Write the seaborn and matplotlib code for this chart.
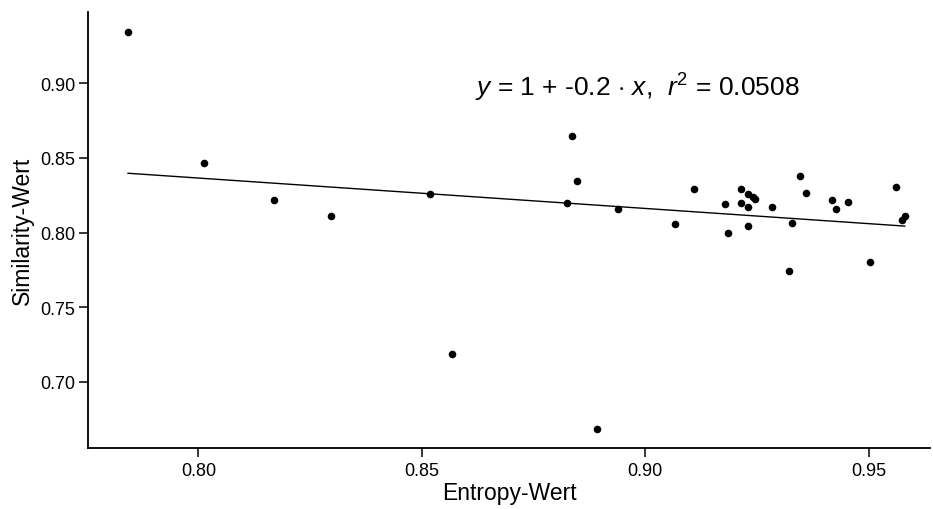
import matplotlib
matplotlib.use("Agg")
import matplotlib.pyplot as plt
import seaborn as sns
import pandas as pd

# values
entropy = [0.7842, 0.8013, 0.8169, 0.8296, 0.8519, 0.8567, 0.8893,
           0.8825, 0.8837, 0.8848, 0.8938, 0.9066, 0.9110, 0.9178,
           0.9185, 0.9213, 0.9215, 0.9230, 0.9230, 0.9230, 0.9240,
           0.9245, 0.9284, 0.9321, 0.9329, 0.9345, 0.9360, 0.9417,
           0.9427, 0.9454, 0.9502, 0.9560, 0.9575, 0.9581]
similarity = [0.9342, 0.8468, 0.8215, 0.8111, 0.8255, 0.7183, 0.6680,
              0.8198, 0.8645, 0.8348, 0.8160, 0.8054, 0.8291, 0.8188,
              0.7995, 0.8291, 0.8199, 0.8172, 0.8045, 0.8255, 0.8240,
              0.8226, 0.8174, 0.7740, 0.8064, 0.8379, 0.8267, 0.8219,
              0.8156, 0.8204, 0.7805, 0.8305, 0.8085, 0.8112]
x_ticks = [0.80, 0.85, 0.90, 0.95]
y_ticks = [0.70, 0.75, 0.80, 0.85, 0.90]
eq_label = r"$y$ = 1 + -0.2 $\cdot$ $x$,  $r^2$ = 0.0508"

df = pd.DataFrame({"Entropy-Wert": entropy, "Similarity-Wert": similarity})

sns.set_style("ticks")
plt.rcParams["font.family"] = ["Liberation Sans", "DejaVu Sans"]
plt.rcParams["text.color"] = "black"
plt.rcParams["axes.labelcolor"] = "black"
plt.rcParams["xtick.color"] = "black"
plt.rcParams["ytick.color"] = "black"
plt.rcParams["mathtext.fontset"] = "custom"
plt.rcParams["mathtext.rm"] = "Liberation Sans"
plt.rcParams["mathtext.it"] = "Liberation Sans:italic"

fig = plt.figure(figsize=(9.33, 5.10), dpi=100)
ax = fig.add_axes([0.0948, 0.119, 0.902, 0.855])

sns.regplot(data=df, x="Entropy-Wert", y="Similarity-Wert", ci=None, ax=ax,
            scatter_kws={"s": 30, "color": "black", "alpha": 1, "linewidths": 0},
            line_kws={"color": "black", "linewidth": 1.0})

ax.text(0.8619, 0.8975, eq_label, fontsize=19, ha="left", va="center")

ax.set_xlim(0.7754, 0.9637)
ax.set_ylim(0.6553, 0.9477)
ax.set_xticks(x_ticks)
ax.set_xticklabels([f"{t:.2f}" for t in x_ticks])
ax.set_yticks(y_ticks)
ax.set_yticklabels([f"{t:.2f}" for t in y_ticks])
ax.tick_params(labelsize=13, length=6.5, width=1.1, color="black", pad=3)
ax.set_xlabel("Entropy-Wert", fontsize=16.5, labelpad=2)
ax.set_ylabel("Similarity-Wert", fontsize=16.5, labelpad=4)
sns.despine(ax=ax)
for s in ["left", "bottom"]:
    ax.spines[s].set_linewidth(1.3)
    ax.spines[s].set_color("black")

plt.savefig("out.png", dpi=100)
